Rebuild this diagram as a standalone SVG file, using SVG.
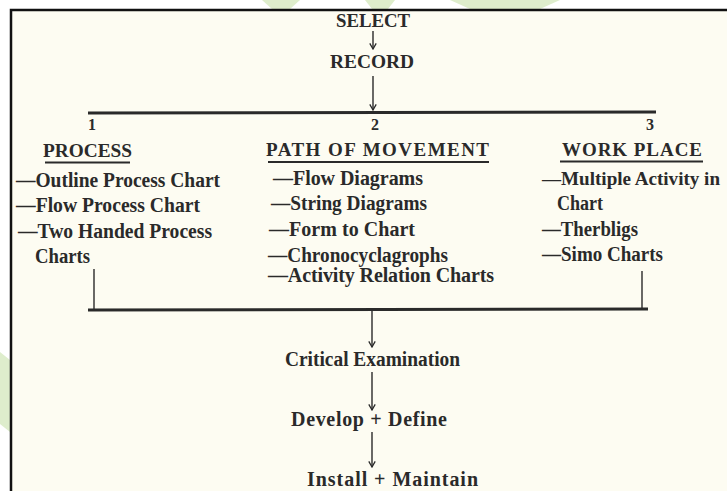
<svg xmlns="http://www.w3.org/2000/svg" width="727" height="491" viewBox="0 0 727 491">
<defs>
<style>
.t{font-family:"Liberation Serif","Times New Roman",serif;font-weight:bold;fill:#2a2a2a;font-size:20px}
.h{font-size:19px}
.n{font-size:16px}
.s{font-size:19px}
.ln{stroke:#2a2a2a;fill:none}
.thick{stroke-width:3}
.thin{stroke-width:1.4}
.ul{stroke-width:2.2}
</style>
<marker id="ah" viewBox="0 0 10 10" refX="9" refY="5" markerWidth="8" markerHeight="8" orient="auto" markerUnits="userSpaceOnUse">
<path d="M2,1 L9,5 L2,9" fill="none" stroke="#2a2a2a" stroke-width="1.6"/>
</marker>
</defs>
<rect x="0" y="0" width="727" height="491" fill="#ffffff"/>
<g id="watermark" fill="#d6e9bf" opacity="0.8">
<polygon points="262,0 300,0 290,9 272,9"/>
<polygon points="365,0 395,0 388,9 372,9"/>
<polygon points="450,0 560,0 540,9 470,9"/>
<polygon points="0,352 10,360 10,432 0,424"/>
</g>
<rect x="11" y="10" width="720" height="485" fill="#fdfcf2" stroke="#111" stroke-width="2.5"/>

<g id="connectors">
<line class="ln thin" x1="373" y1="31" x2="373" y2="49" marker-end="url(#ah)"/>
<line class="ln thin" x1="373" y1="76" x2="373" y2="110" marker-end="url(#ah)"/>
<line class="ln thick" x1="88" y1="113" x2="656" y2="112"/>
<line class="ln thin" x1="94" y1="269" x2="94" y2="309"/>
<line class="ln thin" x1="642" y1="271" x2="642" y2="309"/>
<line class="ln thick" x1="88" y1="310" x2="648" y2="309"/>
<line class="ln thin" x1="372" y1="311" x2="372" y2="347" marker-end="url(#ah)"/>
<line class="ln thin" x1="372" y1="372" x2="372" y2="410" marker-end="url(#ah)"/>
<line class="ln thin" x1="372" y1="432" x2="372" y2="467" marker-end="url(#ah)"/>
</g>

<g id="select"><text class="t h" x="373" y="27" text-anchor="middle" textLength="74" lengthAdjust="spacingAndGlyphs">SELECT</text></g>
<g id="record"><text class="t h" x="372" y="68" text-anchor="middle" textLength="84" lengthAdjust="spacingAndGlyphs">RECORD</text></g>

<g id="num1"><text class="t n" x="92" y="130" text-anchor="middle">1</text></g>
<g id="num2"><text class="t n" x="375" y="130" text-anchor="middle">2</text></g>
<g id="num3"><text class="t n" x="650" y="130" text-anchor="middle">3</text></g>

<g id="process">
<text class="t h" x="43" y="157" textLength="89" lengthAdjust="spacingAndGlyphs">PROCESS</text>
<line class="ln ul" x1="45" y1="162.5" x2="130" y2="162.5"/>
<text class="t" x="16" y="187" textLength="204" lengthAdjust="spacingAndGlyphs">—Outline Process Chart</text>
<text class="t" x="16" y="212" textLength="184" lengthAdjust="spacingAndGlyphs">—Flow Process Chart</text>
<text class="t" x="18" y="238" textLength="194" lengthAdjust="spacingAndGlyphs">—Two Handed Process</text>
<text class="t" x="35" y="263" textLength="55" lengthAdjust="spacingAndGlyphs">Charts</text>
</g>

<g id="path-of-movement">
<text class="t h" x="266" y="156" textLength="223">PATH OF MOVEMENT</text>
<line class="ln ul" x1="268" y1="162" x2="489" y2="162"/>
<text class="t" x="273" y="185" textLength="150">—Flow Diagrams</text>
<text class="t" x="271" y="210" textLength="156" lengthAdjust="spacingAndGlyphs">—String Diagrams</text>
<text class="t" x="269" y="236" textLength="146">—Form to Chart</text>
<text class="t" x="268" y="262" textLength="180" lengthAdjust="spacingAndGlyphs">—Chronocyclagrophs</text>
<text class="t" x="268" y="282" textLength="226">—Activity Relation Charts</text>
</g>

<g id="work-place">
<text class="t h" x="562" y="156" textLength="140">WORK PLACE</text>
<line class="ln ul" x1="560" y1="161.5" x2="703" y2="161.5"/>
<text class="t s" x="542" y="185" textLength="178" lengthAdjust="spacingAndGlyphs">—Multiple Activity in</text>
<text class="t" x="557" y="210" textLength="46" lengthAdjust="spacingAndGlyphs">Chart</text>
<text class="t" x="542" y="236" textLength="96" lengthAdjust="spacingAndGlyphs">—Therbligs</text>
<text class="t" x="542" y="261" textLength="121" lengthAdjust="spacingAndGlyphs">—Simo Charts</text>
</g>

<g id="critical-examination"><text class="t" x="285" y="366" textLength="175" lengthAdjust="spacingAndGlyphs">Critical Examination</text></g>
<g id="develop-define"><text class="t" x="291" y="426" textLength="156">Develop + Define</text></g>
<g id="install-maintain"><text class="t" x="307" y="486" textLength="171">Install + Maintain</text></g>
</svg>
